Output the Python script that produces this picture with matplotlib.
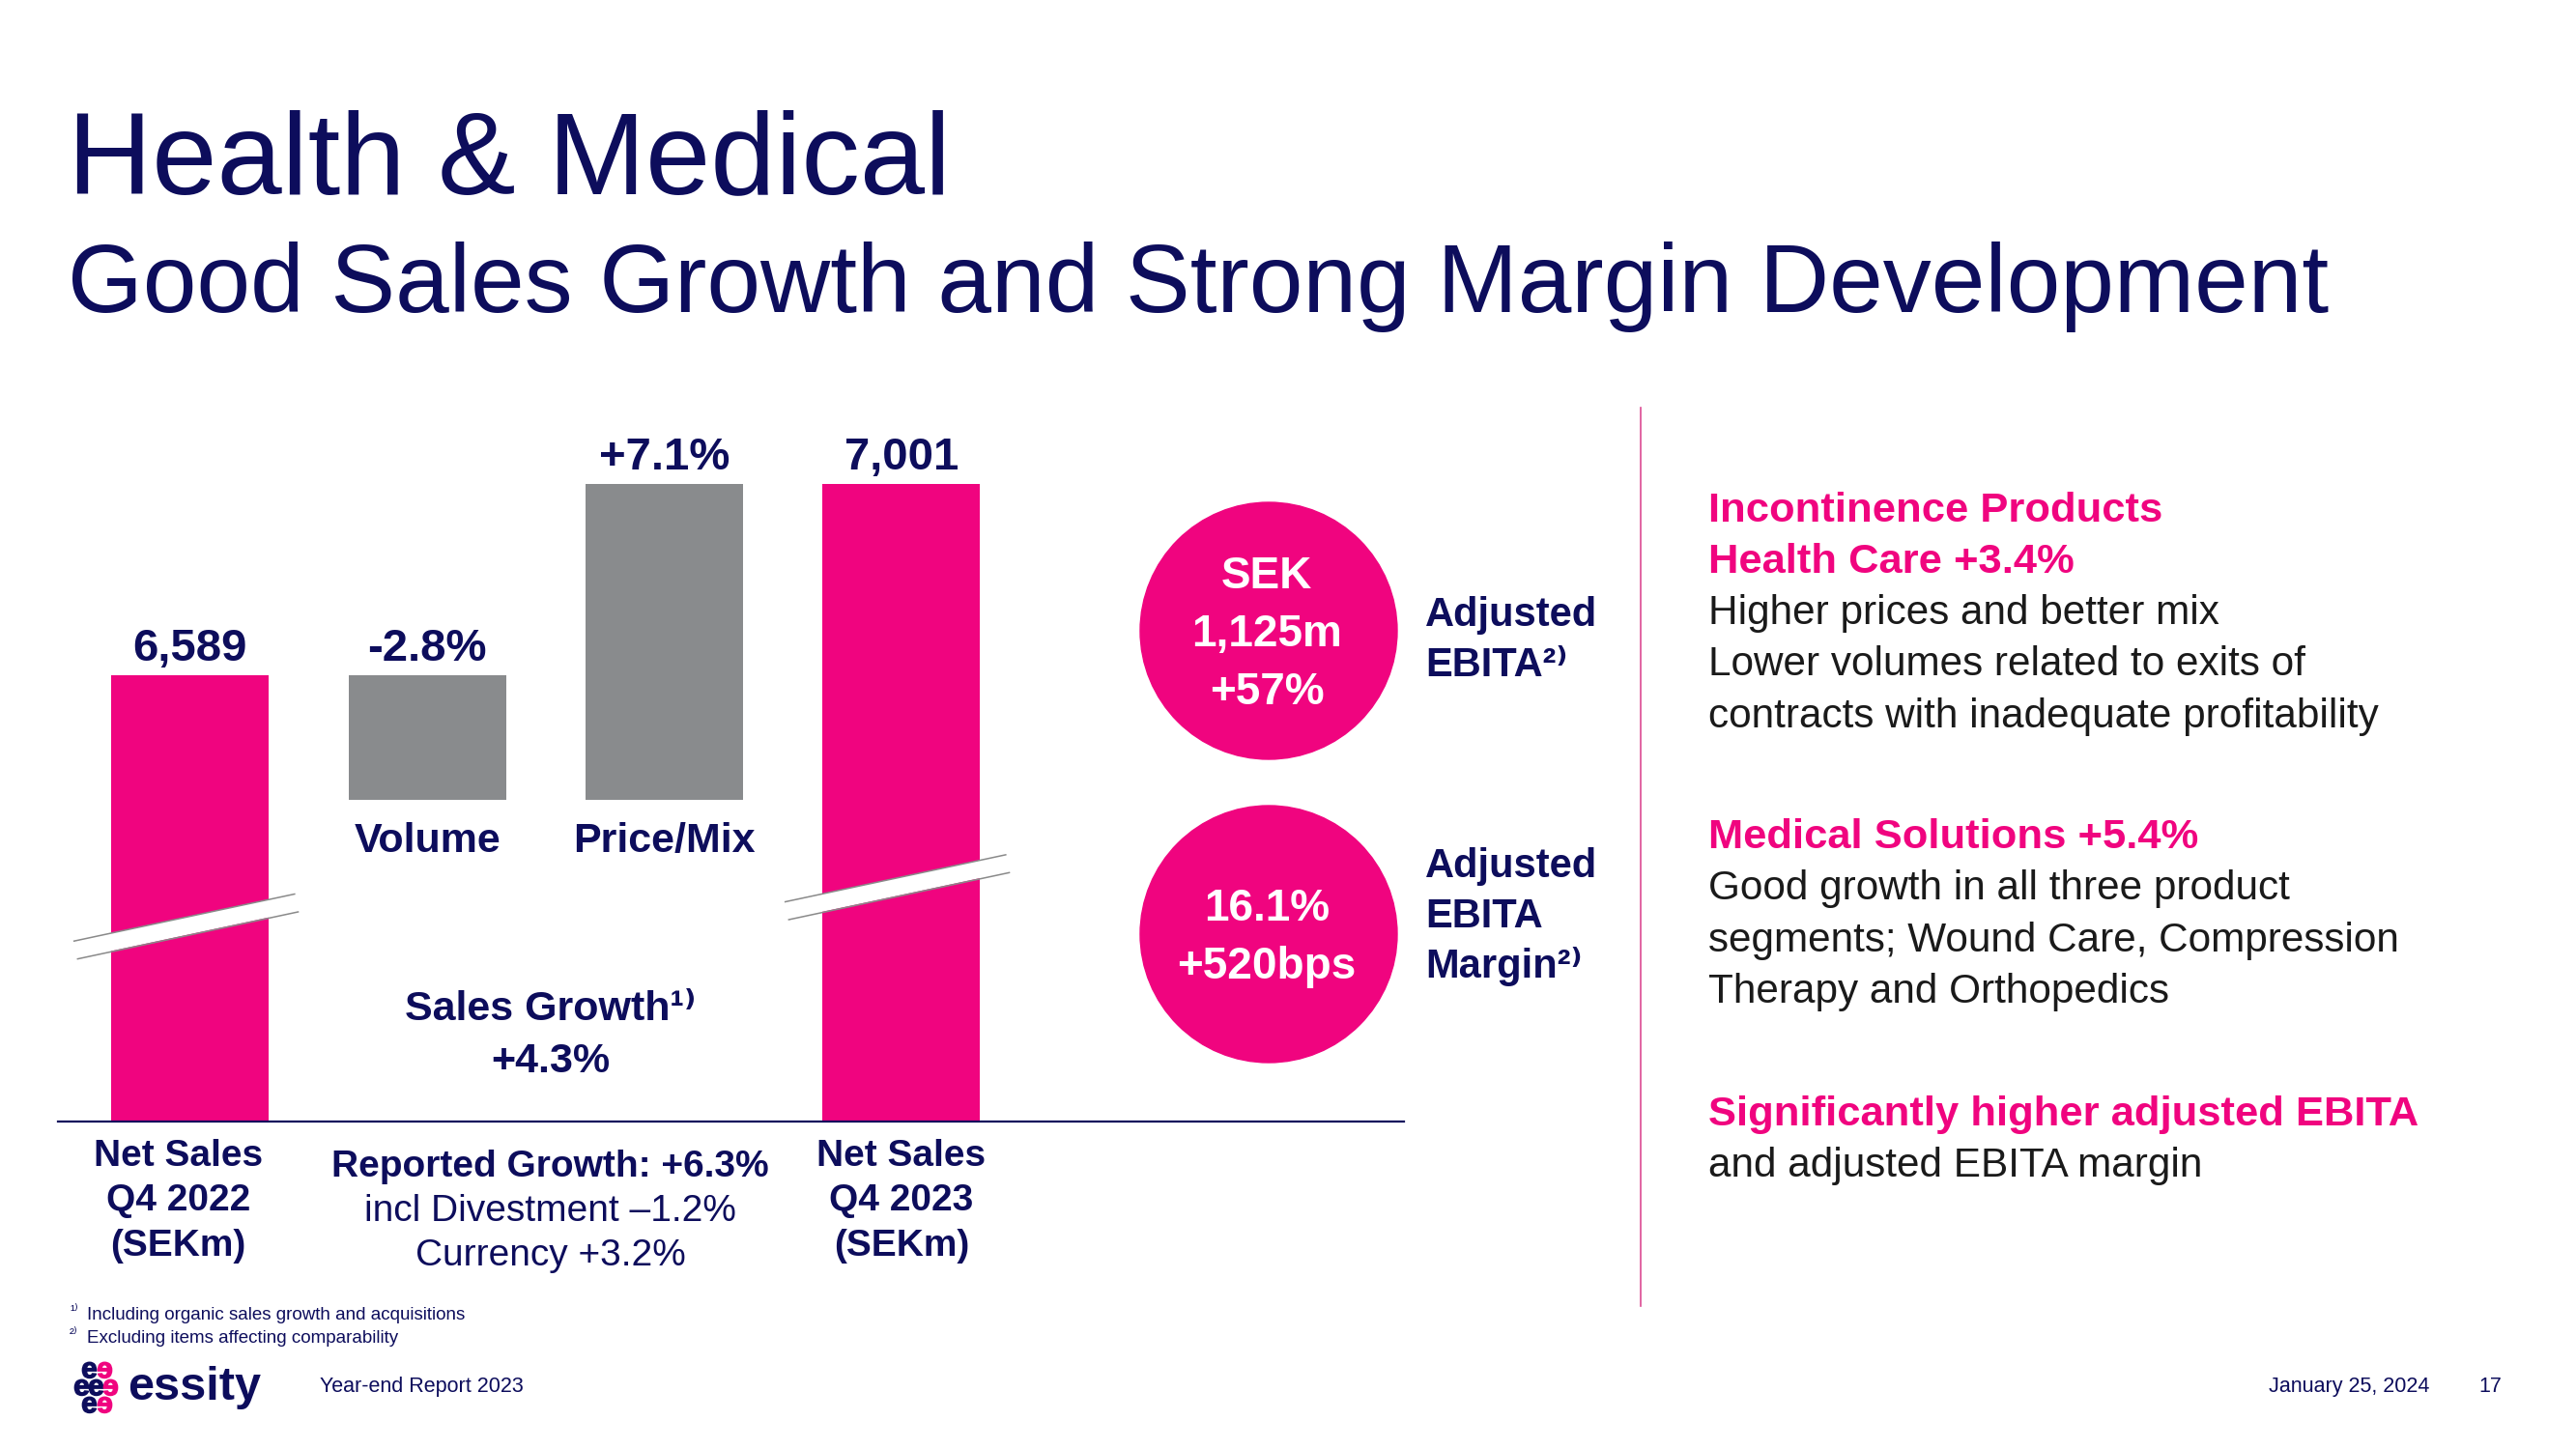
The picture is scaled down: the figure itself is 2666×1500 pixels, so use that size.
import matplotlib
matplotlib.use("Agg")
import matplotlib.pyplot as plt
from matplotlib.patches import Circle, Polygon
from matplotlib.textpath import TextPath
from matplotlib.font_manager import FontProperties
from matplotlib.transforms import Affine2D

plt.rcParams['font.family'] = ['Liberation Sans', 'DejaVu Sans']

PINK = "#F0047F"
NAVY = "#0D0D5C"
GREY = "#898B8D"
BLACK = "#1A1A1A"

# chart data
net_sales = [6589, 7001]
net_sales_labels = [["Net Sales", "Q4 2022", "(SEKm)"], ["Net Sales", "Q4 2023", "(SEKm)"]]
bridge_names = ["Volume", "Price/Mix"]
bridge_pct = [-2.8, 7.1]
sales_growth = 4.3
reported_lines = ["Reported Growth: +6.3%", "incl Divestment \u20131.2%", "Currency +3.2%"]

kpi_values = [["SEK", "1,125m", "+57%"], ["16.1%", "+520bps"]]
kpi_names = [["Adjusted", "EBITA\u00b2\u207e"], ["Adjusted", "EBITA", "Margin\u00b2\u207e"]]

# right hand commentary: (text, is_heading)
comments = [
    [("Incontinence Products", True), ("Health Care +3.4%", True),
     ("Higher prices and better mix", False),
     ("Lower volumes related to exits of", False),
     ("contracts with inadequate profitability", False)],
    [("Medical Solutions +5.4%", True),
     ("Good growth in all three product", False),
     ("segments; Wound Care, Compression", False),
     ("Therapy and Orthopedics", False)],
    [("Significantly higher adjusted EBITA", True),
     ("and adjusted EBITA margin", False)],
]

footnotes = ["\u00b9\u207e", "\u00b2\u207e"]
footnote_texts = ["Including organic sales growth and acquisitions",
                  "Excluding items affecting comparability"]

BREAK = 10  # depth of the truncated net sales bars, in % points

fig = plt.figure(figsize=(26.66, 15), dpi=100)

# background axes in pixel units for slide text
bg = fig.add_axes([0, 0, 1, 1])
bg.set_xlim(0, 2666)
bg.set_ylim(1500, 0)
bg.axis('off')

bg.text(70, 200, "Health & Medical", fontsize=87, color=NAVY, va='baseline')
bg.text(70, 323, "Good Sales Growth and Strong Margin Development", fontsize=72,
        color=NAVY, va='baseline')

# waterfall chart
ax = fig.add_axes([60 / 2666, 1 - 1161 / 1500, 1393 / 2666, 739 / 1500])
ax.set_facecolor('none')
ax.set_xlim(-0.558, 5.12)
ax.set_ylim(-BREAK, 6)
for s in ['top', 'left', 'right']:
    ax.spines[s].set_visible(False)
ax.spines['bottom'].set_color(NAVY)
ax.spines['bottom'].set_linewidth(1.6)
ax.set_xticks([])
ax.set_yticks([])

levels = [0.0]
for p in bridge_pct:
    levels.append(levels[-1] + p)

w = 0.665
xs = [0, 1, 2, 3]
ax.bar(xs[0], BREAK + levels[0], bottom=-BREAK, width=w, color=PINK)
ax.bar(xs[3], BREAK + levels[-1], bottom=-BREAK, width=w, color=PINK)
for i, p in enumerate(bridge_pct):
    ax.bar(xs[i + 1], p, bottom=levels[i], width=w, color=GREY)

lab_kw = dict(fontsize=34, fontweight='bold', color=NAVY, ha='center', va='baseline')
ax.text(xs[0], levels[0] + 0.32, f"{net_sales[0]:,}", **lab_kw)
ax.text(xs[3], levels[-1] + 0.32, f"{net_sales[1]:,}", **lab_kw)
for i, p in enumerate(bridge_pct):
    top = max(levels[i], levels[i + 1])
    low = min(levels[i], levels[i + 1])
    ax.text(xs[i + 1], top + 0.32, f"{p:+.1f}%", **lab_kw)
    ax.text(xs[i + 1], low - 1.15, bridge_names[i], fontsize=31, fontweight='bold',
            color=NAVY, ha='center', va='baseline')

ax.text(1.52, -7.73, "Sales Growth\u00b9\u207e", fontsize=31, fontweight='bold',
        color=NAVY, ha='center', va='baseline')
ax.text(1.52, -8.9, f"{sales_growth:+.1f}%", fontsize=31, fontweight='bold',
        color=NAVY, ha='center', va='baseline')

# axis break marks
slope = 1.133
for xc, yc in [(xs[0], -5.40), (xs[3], -4.52)]:
    x0, x1 = xc - 0.49, xc + 0.44
    up0, up1 = yc + slope * (x0 - xc), yc + slope * (x1 - xc)
    gap = 0.40
    ax.add_patch(Polygon([(x0, up0), (x1, up1), (x1, up1 - gap), (x0, up0 - gap)],
                         closed=True, facecolor='white', edgecolor='none', zorder=3))
    ax.plot([x0, x1], [up0, up1], color='#8A8A8A', lw=1.1, zorder=4)
    ax.plot([x0 + 0.015, x1 + 0.015], [up0 - gap, up1 - gap], color='#8A8A8A', lw=1.1, zorder=4)

# category labels under the axis
for xc, lines in zip([xs[0], xs[3]], net_sales_labels):
    for k, line in enumerate(lines):
        ax.text(xc - (0.05 if xc == 0 else 0), -11.0 - k * 1.0, line, fontsize=28,
                fontweight='bold', color=NAVY, ha='center', va='baseline', clip_on=False)
for k, line in enumerate(reported_lines):
    ax.text(1.52, -11.23 - k * 1.0, line, fontsize=28,
            fontweight='bold' if k == 0 else 'normal',
            color=NAVY, ha='center', va='baseline', clip_on=False)

# KPI circles
for i, (vals, names) in enumerate(zip(kpi_values, kpi_names)):
    cy = 653 + i * 314
    bg.add_patch(Circle((1313, cy), 133, color=PINK))
    n = len(vals)
    for k, v in enumerate(vals):
        yb = cy + 16 + (k - (n - 1) / 2) * 60
        bg.text(1311, yb, v, fontsize=33, fontweight='bold', color='white',
                ha='center', va='baseline')
    for k, t in enumerate(names):
        yb = [648, 908][i] + k * 52
        bg.text(1475, yb, t, fontsize=30, fontweight='bold', color=NAVY, va='baseline')

# divider
bg.plot([1698, 1698], [422, 1352], color='#DC4A92', lw=1.2)

# commentary
starts = [539.5, 878, 1165]
for start, block in zip(starts, comments):
    for k, (t, head) in enumerate(block):
        bg.text(1768, start + k * 53.3, t, fontsize=31.3 if head else 30.4,
                fontweight='bold' if head else 'normal',
                color=PINK if head else BLACK, va='baseline')

# footnotes
for k, (s, t) in enumerate(zip(footnotes, footnote_texts)):
    bg.text(72, 1361 + k * 24, s, fontsize=11, color=NAVY, va='baseline')
    bg.text(90, 1366 + k * 24, t, fontsize=13.5, color=NAVY, va='baseline')

# footer logo: small e glyphs as markers (pink ones mirrored)
e_path = TextPath((0, 0), 'e', size=10, prop=FontProperties(family='Liberation Sans', weight='bold'))
e_path = e_path.transformed(Affine2D().translate(-2.8, -2.6))
e_mirror = e_path.transformed(Affine2D().scale(-1, 1))
logo_navy = [(92, 1418), (84, 1436), (99, 1436), (92, 1454)]
logo_pink = [(108, 1418), (114, 1436), (108, 1454)]
bg.plot([p[0] for p in logo_navy], [p[1] for p in logo_navy], ls='none',
        marker=e_path, markersize=12, color=NAVY)
bg.plot([p[0] for p in logo_pink], [p[1] for p in logo_pink], ls='none',
        marker=e_mirror, markersize=12, color=PINK)
bg.text(132, 1449, "essity", fontsize=35, fontweight='bold', color=NAVY, va='baseline')
bg.text(331, 1441, "Year-end Report 2023", fontsize=15.5, color=NAVY, va='baseline')
bg.text(2514, 1441, "January 25, 2024", fontsize=15.5, color=NAVY, ha='right', va='baseline')
bg.text(2577, 1441, "17", fontsize=15.5, color=NAVY, ha='center', va='baseline')

fig.savefig("out.png", dpi=100, facecolor='white')
